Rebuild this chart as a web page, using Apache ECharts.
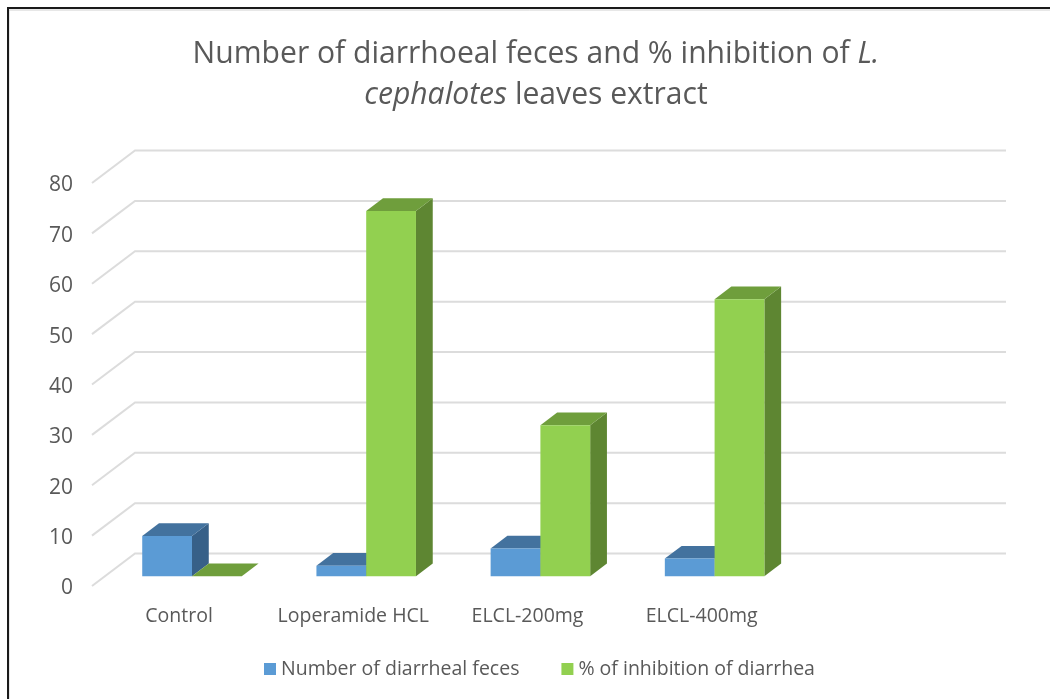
<!DOCTYPE html>
<html><head><meta charset="utf-8">
<style>html,body{margin:0;padding:0;background:#fff}#c{width:1050px;height:699px}</style>
<script src="https://cdn.jsdelivr.net/npm/echarts@6/dist/echarts.min.js"></script>
</head><body><div id="c"></div>
<script>
var categories = ['Control','Loperamide HCL','ELCL-200mg','ELCL-400mg',''];
var yTicks = [0,10,20,30,40,50,60,70,80];
var feces = [8,2.1,5.5,3.5];
var inhibition = [0,72.5,30,55];
var seriesNames = ['Number of diarrheal feces','% of inhibition of diarrhea'];
var FONT = '"Open Sans"';

var DEPTH_X = 43, DEPTH_Y = 32.5, BAR_OFFSET = 0.3, BAR_DEPTH = 0.39, GAP_RATIO = 3.5;

function makeBar(index, front, top, side){
  return function(params, api){
    var cat = api.value(0), val = api.value(1);
    var band = api.size([1,0])[0];
    var w = band/GAP_RATIO;
    var base = api.coord([cat,0]), head = api.coord([cat,val]);
    var x0 = base[0] + DEPTH_X*BAR_OFFSET - w + index*w;
    var x1 = x0 + w;
    var yb = base[1] - DEPTH_Y*BAR_OFFSET;
    var yt = head[1] - DEPTH_Y*BAR_OFFSET;
    var dx = DEPTH_X*BAR_DEPTH, dy = DEPTH_Y*BAR_DEPTH;
    var children = [
      {type:'polygon',shape:{points:[[x1,yb],[x1+dx,yb-dy],[x1+dx,yt-dy],[x1,yt]]},style:{fill:side}},
      {type:'polygon',shape:{points:[[x0,yt],[x1,yt],[x1+dx,yt-dy],[x0+dx,yt-dy]]},style:{fill:top}},
      {type:'rect',shape:{x:x0,y:yt,width:w,height:yb-yt},style:{fill:front}}
    ];
    return {type:'group',children:children};
  };
}
function renderGrid(params, api){
  var cs = params.coordSys;
  var y = api.coord([0,api.value(1)])[1];
  return {type:'polyline',shape:{points:[[cs.x,y],[cs.x+DEPTH_X,y-DEPTH_Y],[cs.x+cs.width+DEPTH_X,y-DEPTH_Y]]},
    style:{fill:null,stroke:'#dcdcdc',lineWidth:2}};
}
function pairs(arr){return arr.map(function(v,i){return [i,v];});}

var chart = echarts.init(document.getElementById('c'),null,{renderer:'canvas'});
chart.setOption({
  backgroundColor:'#fff',
  animation:false,
  title:{
    text:'Number of diarrhoeal feces and % inhibition of {i|L.}\n{i|cephalotes} leaves extract',
    left:531, top:29, textAlign:'center',
    textStyle:{fontFamily:FONT,fontSize:30.1,fontWeight:'normal',color:'#595959',lineHeight:41,
      rich:{i:{fontFamily:FONT,fontSize:30.1,fontStyle:'italic',color:'#595959',lineHeight:41}}}
  },
  legend:{
    left:259, top:654, icon:'rect', itemWidth:12, itemHeight:12, itemGap:42,
    data:seriesNames,
    textStyle:{fontFamily:FONT,fontSize:19.5,color:'#595959'}
  },
  grid:{left:92,right:87,top:183,bottom:113},
  xAxis:{type:'category',data:categories,axisLine:{show:false},axisTick:{show:false},splitLine:{show:false},
    axisLabel:{interval:0,margin:20,fontFamily:FONT,fontSize:19.5,color:'#595959'}},
  yAxis:{type:'value',min:0,max:80,interval:10,axisLine:{show:false},axisTick:{show:false},splitLine:{show:false},
    axisLabel:{margin:19,formatter:'{a|{value}}',
      rich:{a:{fontFamily:FONT,fontSize:21,color:'#595959',padding:[5,0,0,0]}}}},
  series:[
    {type:'custom',name:'grid',silent:true,clip:false,z:1,renderItem:renderGrid,encode:{x:0,y:1},
      data:yTicks.map(function(v){return [0,v];})},
    {type:'custom',name:seriesNames[0],clip:false,z:2,itemStyle:{color:'#5B9BD5'},encode:{x:0,y:1},
      renderItem:makeBar(0,'#5B9BD5','#43729E','#376088'),data:pairs(feces)},
    {type:'custom',name:seriesNames[1],clip:false,z:3,itemStyle:{color:'#92D050'},encode:{x:0,y:1},
      renderItem:makeBar(1,'#92D050','#6F9E3C','#5E8632'),data:pairs(inhibition)}
  ],
  graphic:[
    {type:'polyline',silent:true,shape:{points:[[9,699],[9,10],[1050,10]]},style:{fill:null,stroke:'#d0d0d0',lineWidth:1}},
    {type:'polyline',silent:true,shape:{points:[[8,699],[8,8],[1050,8]]},style:{fill:null,stroke:'#1a1a1a',lineWidth:2}}
  ]
});
</script></body></html>
